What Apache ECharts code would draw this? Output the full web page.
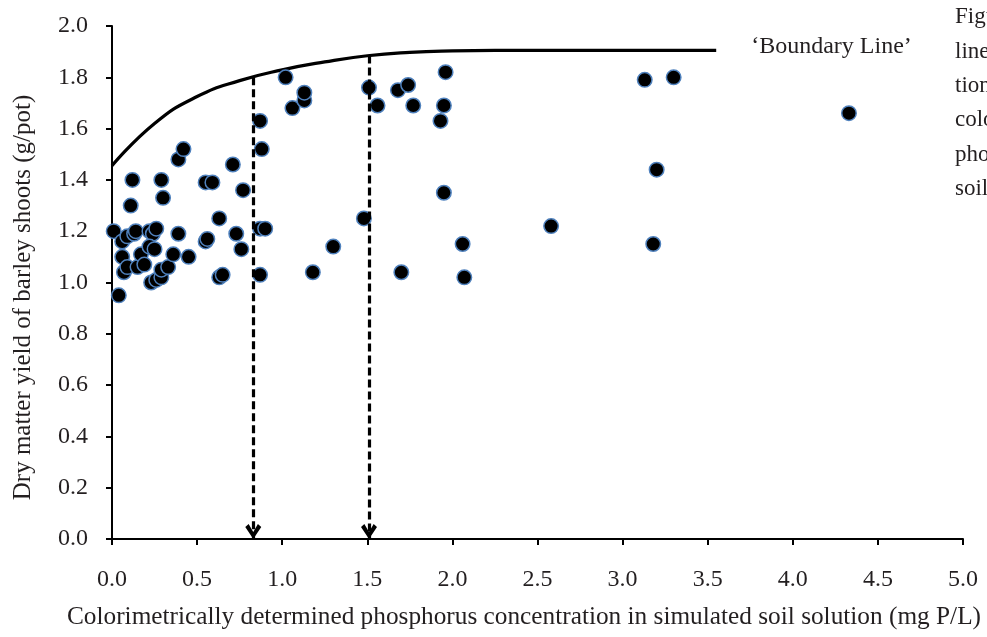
<!DOCTYPE html>
<html>
<head>
<meta charset="utf-8">
<script src="https://cdn.jsdelivr.net/npm/echarts@6/dist/echarts.min.js"></script>
<style>
  html, body { margin: 0; padding: 0; background: #fff; }
  #chart { width: 987px; height: 637px; }
</style>
</head>
<body>
<div id="chart"></div>
<script>
// Soil-solution P concentration (mg P/L) and barley shoot yield (g/pot)
const phosphorus = [
  0.01, 0.04, 0.06, 0.09, 0.13, 0.14, 0.06, 0.07, 0.09, 0.11,
  0.12, 0.15, 0.17, 0.19, 0.22, 0.24, 0.26, 0.22, 0.25, 0.23,
  0.26, 0.29, 0.29, 0.33, 0.36, 0.39, 0.45, 0.29, 0.30, 0.39,
  0.42, 0.55, 0.59, 0.55, 0.56, 0.63, 0.63, 0.65, 0.71, 0.73,
  0.77, 0.76, 0.87, 0.88, 0.87, 0.90, 0.87, 1.02, 1.06, 1.13,
  1.13, 1.18, 1.30, 1.48, 1.51, 1.56, 1.68, 1.74, 1.70, 1.77,
  1.93, 1.95, 1.96, 1.95, 2.06, 2.07, 2.58, 3.13, 3.30, 3.20,
  3.18, 4.33
];
const shootYield = [
  1.20, 0.95, 1.16, 1.18, 1.19, 1.20, 1.10, 1.04, 1.06, 1.30,
  1.40, 1.06, 1.11, 1.07, 1.20, 1.19, 1.21, 1.14, 1.13, 1.00,
  1.01, 1.02, 1.05, 1.06, 1.11, 1.19, 1.10, 1.40, 1.33, 1.48,
  1.52, 1.39, 1.39, 1.16, 1.17, 1.25, 1.02, 1.03, 1.46, 1.19,
  1.36, 1.13, 1.63, 1.52, 1.21, 1.21, 1.03, 1.80, 1.68, 1.71,
  1.74, 1.04, 1.14, 1.25, 1.76, 1.69, 1.75, 1.77, 1.04, 1.69,
  1.63, 1.69, 1.82, 1.35, 1.15, 1.02, 1.22, 1.79, 1.80, 1.44,
  1.15, 1.66
];

// Boundary line: points read along the upper envelope of the data
const boundaryP = [0.0, 0.25, 0.5, 0.75, 1.0, 1.25, 1.5, 1.75, 2.0, 2.25, 2.5, 2.75, 3.0, 3.25, 3.55];
const boundaryYield = [1.455, 1.62, 1.725, 1.787, 1.829, 1.86, 1.884, 1.897, 1.903, 1.905, 1.905, 1.905, 1.905, 1.905, 1.905];

// Critical concentrations, marked with dashed arrows down to the x axis
const criticalP = [0.83, 1.51];
const criticalYield = [1.80, 1.885];

const xTicks = { min: 0, max: 5, step: 0.5 };
const yTicks = { min: 0, max: 2, step: 0.2 };

const captionLines = ['Figure', 'lines', 'tions', 'colorimetrically', 'phosphorus', 'soil'];

const serif = '"Liberation Serif", "DejaVu Serif", serif';
const textColor = '#231f20';

const points = phosphorus.map((p, i) => [p, shootYield[i]]);
const boundary = boundaryP.map((p, i) => [p, boundaryYield[i]]);
const dropLines = criticalP.map((p, i) => [
  { coord: [p, criticalYield[i]] },
  { coord: [p, 0] }
]);
const arrowTips = criticalP.map(p => [p, 0]);

// open chevron pointing down, tip at the bottom centre
const chevron = 'path://M0,3.6 L4.2,0 L10,9.6 L15.8,0 L20,3.6 L10,18 Z';

const chart = echarts.init(document.getElementById('chart'), null, { renderer: 'canvas' });

chart.setOption({
  animation: false,
  backgroundColor: '#ffffff',
  textStyle: { fontFamily: serif },
  grid: { left: 112, right: 24, top: 26, bottom: 98, containLabel: false },
  xAxis: {
    type: 'value',
    min: xTicks.min, max: xTicks.max, interval: xTicks.step,
    name: 'Colorimetrically determined phosphorus concentration in simulated soil solution (mg P/L)',
    nameLocation: 'middle',
    nameGap: 66,
    nameTextStyle: { fontFamily: serif, fontSize: 25.3, color: textColor, padding: [0, 27, 0, 0] },
    axisLine: { show: true, onZero: false, lineStyle: { color: '#000', width: 2 } },
    axisTick: { show: true, length: 6, inside: false, lineStyle: { color: '#000', width: 2 } },
    axisLabel: {
      margin: 29, fontFamily: serif, fontSize: 24, color: textColor,
      formatter: v => v.toFixed(1)
    },
    splitLine: { show: false }
  },
  yAxis: {
    type: 'value',
    min: yTicks.min, max: yTicks.max, interval: yTicks.step,
    name: 'Dry matter yield of barley shoots (g/pot)',
    nameLocation: 'middle',
    nameGap: 76,
    nameTextStyle: { fontFamily: serif, fontSize: 25, color: textColor, padding: [0, 30, 0, 0] },
    axisLine: { show: true, onZero: false, lineStyle: { color: '#000', width: 2 } },
    axisTick: { show: true, length: 6, inside: false, lineStyle: { color: '#000', width: 2 } },
    axisLabel: {
      margin: 24, fontFamily: serif, fontSize: 24, color: textColor,
      formatter: v => v.toFixed(1)
    },
    splitLine: { show: false }
  },
  series: [
    {
      name: 'Boundary Line',
      type: 'line',
      data: boundary,
      smooth: true,
      showSymbol: false,
      symbol: 'none',
      lineStyle: { color: '#000', width: 3.2 },
      endLabel: {
        show: true,
        formatter: '\u2018Boundary Line\u2019',
        distance: 35,
        offset: [0, -4],
        fontFamily: serif,
        fontSize: 24,
        color: textColor
      },
      silent: true,
      z: 2
    },
    {
      name: 'Critical P',
      type: 'line',
      data: [],
      silent: true,
      markLine: {
        silent: true,
        animation: false,
        symbol: ['none', 'none'],
        label: { show: false },
        lineStyle: { color: '#000', width: 3.2, type: [8, 4], opacity: 1 },
        emphasis: { disabled: true },
        data: dropLines
      },
      z: 3
    },
    {
      name: 'Arrow tips',
      type: 'scatter',
      data: arrowTips,
      symbol: chevron,
      symbolSize: [16, 15],
      symbolOffset: [0, -7.5],
      itemStyle: { color: '#000', borderWidth: 0, opacity: 1 },
      silent: true,
      z: 3
    },
    {
      name: 'Yield',
      type: 'scatter',
      data: points,
      symbol: 'circle',
      symbolSize: 14.5,
      itemStyle: { color: '#000', borderColor: '#4f81bd', borderWidth: 1.5, opacity: 1 },
      z: 4
    }
  ],
  graphic: [
    {
      type: 'text',
      left: 955,
      top: 0,
      silent: true,
      style: {
        text: captionLines.join('\n'),
        fontFamily: serif,
        fontSize: 23,
        lineHeight: 34.4,
        fill: textColor
      }
    }
  ]
});
</script>
</body>
</html>
